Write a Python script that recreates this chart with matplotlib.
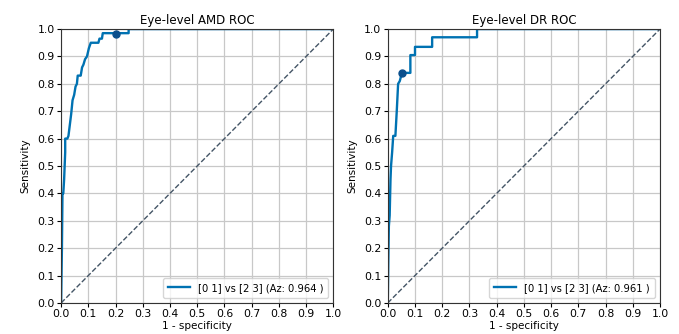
import matplotlib
matplotlib.use("Agg")
import matplotlib.pyplot as plt
import numpy as np

# Courbe ROC AMD (1 - spécificité, sensibilité)
amd_fpr = [0.0, 0.003, 0.005, 0.008, 0.011, 0.015, 0.015, 0.023, 0.027, 0.032,
           0.037, 0.040, 0.042, 0.048, 0.053, 0.058, 0.061, 0.072, 0.077,
           0.082, 0.088, 0.095, 0.102, 0.109, 0.137, 0.141, 0.150, 0.153,
           0.248, 0.248, 1.0]
amd_tpr = [0.0, 0.20, 0.40, 0.40, 0.45, 0.55, 0.60, 0.60, 0.61, 0.65,
           0.69, 0.72, 0.74, 0.76, 0.79, 0.80, 0.83, 0.83, 0.86,
           0.87, 0.89, 0.90, 0.93, 0.95, 0.95, 0.965, 0.965, 0.985,
           0.985, 1.0, 1.0]
amd_point = (0.202, 0.982)
amd_auc = 0.964

# Courbe ROC DR
dr_fpr = [0.0, 0.002, 0.004, 0.007, 0.010, 0.012, 0.016, 0.020, 0.028,
          0.033, 0.038, 0.044, 0.052, 0.083, 0.083, 0.100, 0.100, 0.163,
          0.163, 0.328, 0.328, 1.0]
dr_tpr = [0.0, 0.15, 0.28, 0.32, 0.45, 0.50, 0.55, 0.61, 0.61,
          0.70, 0.80, 0.81, 0.84, 0.84, 0.905, 0.905, 0.935, 0.935,
          0.97, 0.97, 1.0, 1.0]
dr_point = (0.052, 0.839)
dr_auc = 0.961

titles = ["Eye-level AMD ROC", "Eye-level DR ROC"]
ticks = np.arange(0, 1.01, 0.1)

fig, axes = plt.subplots(1, 2, figsize=(6.79, 3.34), dpi=100)
fig.subplots_adjust(left=0.09, right=0.972, bottom=0.093, top=0.913, wspace=0.2)

data = [(amd_fpr, amd_tpr, amd_point, amd_auc), (dr_fpr, dr_tpr, dr_point, dr_auc)]
for ax, (fpr, tpr, pt, auc), title in zip(axes, data, titles):
    ax.plot(fpr, tpr, color="#0072b2", lw=1.7,
            label=f"[0 1] vs [2 3] (Az: {auc:.3f} )")
    ax.plot(pt[0], pt[1], "o", color="#0b4f8c", ms=5)
    ax.plot([0, 1], [0, 1], "--", color="#445566", lw=1)
    ax.set_xlim(0, 1)
    ax.set_ylim(0, 1)
    ax.set_xticks(ticks)
    ax.set_yticks(ticks)
    ax.tick_params(labelsize=7.8, length=3, pad=1.5)
    ax.grid(True, color="#c8c8c8", lw=0.9)
    ax.set_title(title, fontsize=8.5, pad=4)
    ax.set_xlabel("1 - specificity", fontsize=7.5, labelpad=1)
    ax.set_ylabel("Sensitivity", fontsize=7.5, labelpad=5)
    for s in ax.spines.values():
        s.set_color("#333333")
    ax.legend(loc="lower right", fontsize=7.2, handlelength=2.2,
              borderpad=0.5, fancybox=True)

fig.savefig("out.png", dpi=100)
